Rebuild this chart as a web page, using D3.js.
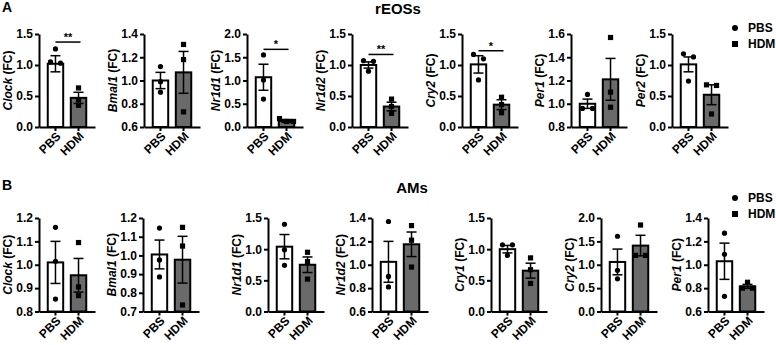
<!DOCTYPE html>
<html>
<head>
<meta charset="utf-8">
<script src="https://cdn.jsdelivr.net/npm/d3@7"></script>
<style>
  body { margin: 0; background: #fff; }
  svg text { font-family: "Liberation Sans", Arial, sans-serif; font-weight: bold; fill: #000; }
</style>
</head>
<body>
<script>
var width = 776;
var height = 345;

var groups = ["PBS", "HDM"];

// A: rEOSs
var genesA = ["Clock", "Bmal1", "Nr1d1", "Nr1d2", "Cry2", "Per1", "Per2"];
var yMinA = [0, 0.6, 0, 0, 0, 0.8, 0];
var yMaxA = [1.5, 1.4, 2.0, 1.5, 1.5, 1.6, 1.5];
var tickStepA = [0.5, 0.2, 0.5, 0.5, 0.5, 0.2, 0.5];
var meansA = [[1.02, 0.47], [1.00, 1.07], [1.07, 0.13], [1.00, 0.33], [1.01, 0.36], [1.00, 1.21], [1.01, 0.52]];
var semsA = [[0.13, 0.09], [0.07, 0.18], [0.28, 0.03], [0.05, 0.07], [0.14, 0.08], [0.04, 0.18], [0.12, 0.16]];
var pbsA = [[1.26, 1.03, 1.05], [1.12, 0.99, 0.90], [1.55, 1.01, 0.60], [1.07, 1.06, 0.90], [1.17, 1.10, 0.76], [1.08, 0.96, 0.96], [1.18, 1.13, 0.74]];
var hdmA = [[0.63, 0.44, 0.35], [1.31, 1.18, 0.73], [0.18, 0.12, 0.12], [0.45, 0.33, 0.22], [0.48, 0.36, 0.23], [1.57, 1.10, 0.97], [0.68, 0.67, 0.21]];
var sigA = [["**", 1.37], null, ["*", 1.67], ["**", 1.17], ["*", 1.23], null, null];

// B: AMs
var genesB = ["Clock", "Bmal1", "Nr1d1", "Nr1d2", "Cry1", "Cry2", "Per1"];
var yMinB = [0.8, 0.7, 0, 0.6, 0, 0, 0.6];
var yMaxB = [1.2, 1.2, 1.5, 1.4, 1.5, 2.0, 1.4];
var tickStepB = [0.1, 0.1, 0.5, 0.2, 0.5, 0.5, 0.2];
var meansB = [[1.01, 0.955], [1.005, 0.977], [1.04, 0.75], [1.025, 1.175], [1.0, 0.655], [1.06, 1.41], [1.03, 0.815]];
var semsB = [[0.09, 0.072], [0.077, 0.125], [0.195, 0.125], [0.175, 0.105], [0.06, 0.12], [0.275, 0.22], [0.155, 0.017]];
var pbsB = [[1.16, 1.015, 0.853], [1.146, 0.976, 0.885], [1.40, 0.99, 0.74], [1.37, 0.90, 0.81], [1.07, 1.07, 0.90], [1.61, 0.88, 0.70], [1.27, 1.09, 0.73]];
var hdmB = [[1.095, 0.905, 0.868], [1.15, 1.05, 0.735], [0.95, 0.80, 0.52], [1.335, 1.21, 0.98], [0.86, 0.67, 0.45], [1.85, 1.20, 1.20], [0.85, 0.80, 0.80]];
var sigB = [null, null, null, null, null, null, null];

// layout
var axisXA = [39, 144, 247, 352, 462, 571, 672];
var axisXB = [39, 143, 268, 372, 491, 601, 708];
var rowA = { top: 34, bottom: 127 };
var rowB = { top: 218, bottom: 311.5 };
var axisLen = 56;
var fs = "12px";

var svg = d3.select("body")
            .append("svg")
            .attr("width", width)
            .attr("height", height);

// spread points horizontally when they sit on top of each other
function dodge(vals, y) {
    var order = vals.map(function(v, i) { return i; })
                    .sort(function(a, b) { return y(vals[a]) - y(vals[b]); });
    var offs = vals.map(function() { return 0; });
    var clusters = [];
    var cur = [order[0]];
    for (var i = 1; i < order.length; i++) {
        if (y(vals[order[i]]) - y(vals[cur[cur.length - 1]]) < 5) {
            cur.push(order[i]);
        } else {
            clusters.push(cur);
            cur = [order[i]];
        }
    }
    clusters.push(cur);
    clusters.forEach(function(c) {
        if (c.length == 2) { offs[c[0]] = -5; offs[c[1]] = 5; }
        if (c.length == 3) { offs[c[0]] = -7; offs[c[1]] = 0; offs[c[2]] = 7; }
    });
    return offs;
}

function drawPanel(ax, row, gene, ymin, ymax, step, means, sems, pbs, hdm, sig) {
    var g = svg.append("g");

    var x = d3.scaleBand()
              .domain(groups)
              .range([ax, ax + axisLen])
              .paddingInner(0.33)
              .paddingOuter(0.38);

    var y = d3.scaleLinear()
              .domain([ymin, ymax])
              .range([row.bottom, row.top]);

    var tickVals = d3.range(0, Math.round((ymax - ymin) / step) + 1)
                     .map(function(k) { return ymin + k * step; });

    // bars
    g.selectAll("rect.bar")
     .data(groups)
     .enter()
     .append("rect")
     .attr("x", function(d) { return x(d); })
     .attr("width", x.bandwidth())
     .attr("y", function(d, i) { return y(means[i]); })
     .attr("height", function(d, i) { return y(ymin) - y(means[i]); })
     .style("fill", function(d, i) { return i == 0 ? "#ffffff" : "#6a6a6a"; })
     .style("stroke", "#000")
     .style("stroke-width", 2);

    // error bars (mean +/- SEM)
    groups.forEach(function(d, i) {
        var cx = x(d) + x.bandwidth() / 2;
        var hi = y(means[i] + sems[i]);
        var lo = y(Math.max(ymin, means[i] - sems[i]));
        g.append("line").attr("x1", cx).attr("x2", cx).attr("y1", hi).attr("y2", lo)
         .style("stroke", "#000").style("stroke-width", 1.5);
        g.append("line").attr("x1", cx - 5).attr("x2", cx + 5).attr("y1", hi).attr("y2", hi)
         .style("stroke", "#000").style("stroke-width", 1.5);
        g.append("line").attr("x1", cx - 5).attr("x2", cx + 5).attr("y1", lo).attr("y2", lo)
         .style("stroke", "#000").style("stroke-width", 1.5);
    });

    // individual points
    var cP = x("PBS") + x.bandwidth() / 2;
    var offP = dodge(pbs, y);
    g.selectAll("circle.pt")
     .data(pbs)
     .enter()
     .append("circle")
     .attr("cx", function(d, i) { return cP + offP[i]; })
     .attr("cy", function(d) { return y(d); })
     .attr("r", 2.6)
     .style("fill", "#000");

    var cH = x("HDM") + x.bandwidth() / 2;
    var offH = dodge(hdm, y);
    g.selectAll("rect.pt")
     .data(hdm)
     .enter()
     .append("rect")
     .attr("x", function(d, i) { return cH + offH[i] - 2.6; })
     .attr("y", function(d) { return y(d) - 2.6; })
     .attr("width", 5.2)
     .attr("height", 5.2)
     .style("fill", "#000");

    // axes
    var yAxis = d3.axisLeft(y)
                  .tickValues(tickVals)
                  .tickFormat(d3.format(".1f"))
                  .tickSize(4)
                  .tickSizeOuter(0)
                  .tickPadding(2);
    var ya = g.append("g")
              .attr("transform", "translate(" + ax + ",0)")
              .call(yAxis);

    var xAxis = d3.axisBottom(x).tickSize(4).tickSizeOuter(0);
    var xa = g.append("g")
              .attr("transform", "translate(0," + row.bottom + ")")
              .call(xAxis);

    [ya, xa].forEach(function(a) {
        a.select(".domain").attr("stroke", "#000").attr("stroke-width", 2);
        a.selectAll(".tick line").attr("stroke", "#000").attr("stroke-width", 2);
        a.selectAll("text").style("font-size", fs).attr("fill", "#000");
    });

    xa.selectAll(".tick text")
      .attr("x", 0).attr("y", 0).attr("dy", 0)
      .attr("text-anchor", "end")
      .attr("transform", "translate(6,10) rotate(-45)");

    // y axis title
    var lbl = g.append("text")
               .attr("text-anchor", "middle")
               .attr("transform", "translate(" + (ax - 27) + "," + ((row.top + row.bottom) / 2) + ") rotate(-90)")
               .style("font-size", fs);
    lbl.append("tspan").style("font-style", "italic").text(gene);
    lbl.append("tspan").text(" (FC)");

    // significance
    if (sig) {
        var sy = y(sig[1]);
        g.append("line")
         .attr("x1", cP).attr("x2", cH + 2)
         .attr("y1", sy).attr("y2", sy)
         .style("stroke", "#000").style("stroke-width", 1.5);
        g.append("text")
         .attr("x", (cP + cH) / 2 + 1)
         .attr("y", sy - 1)
         .attr("text-anchor", "middle")
         .style("font-size", "11px")
         .text(sig[0]);
    }
}

for (var i = 0; i < genesA.length; i++) {
    drawPanel(axisXA[i], rowA, genesA[i], yMinA[i], yMaxA[i], tickStepA[i],
              meansA[i], semsA[i], pbsA[i], hdmA[i], sigA[i]);
}
for (var j = 0; j < genesB.length; j++) {
    drawPanel(axisXB[j], rowB, genesB[j], yMinB[j], yMaxB[j], tickStepB[j],
              meansB[j], semsB[j], pbsB[j], hdmB[j], sigB[j]);
}

// panel letters and titles
svg.append("text").attr("x", 2).attr("y", 12).style("font-size", "14px").text("A");
svg.append("text").attr("x", 2).attr("y", 190).style("font-size", "14px").text("B");
svg.append("text").attr("x", 398).attr("y", 14).attr("text-anchor", "middle").style("font-size", "15px").text("rEOSs");
svg.append("text").attr("x", 412).attr("y", 193).attr("text-anchor", "middle").style("font-size", "15px").text("AMs");

// legends
[28, 198].forEach(function(ly) {
    svg.append("circle").attr("cx", 735).attr("cy", ly).attr("r", 3).style("fill", "#000");
    svg.append("rect").attr("x", 732).attr("y", ly + 13).attr("width", 6).attr("height", 6).style("fill", "#000");
    svg.append("text").attr("x", 748).attr("y", ly).attr("dy", "0.36em").style("font-size", "12px").text(groups[0]);
    svg.append("text").attr("x", 748).attr("y", ly + 16).attr("dy", "0.36em").style("font-size", "12px").text(groups[1]);
});
</script>
</body>
</html>
